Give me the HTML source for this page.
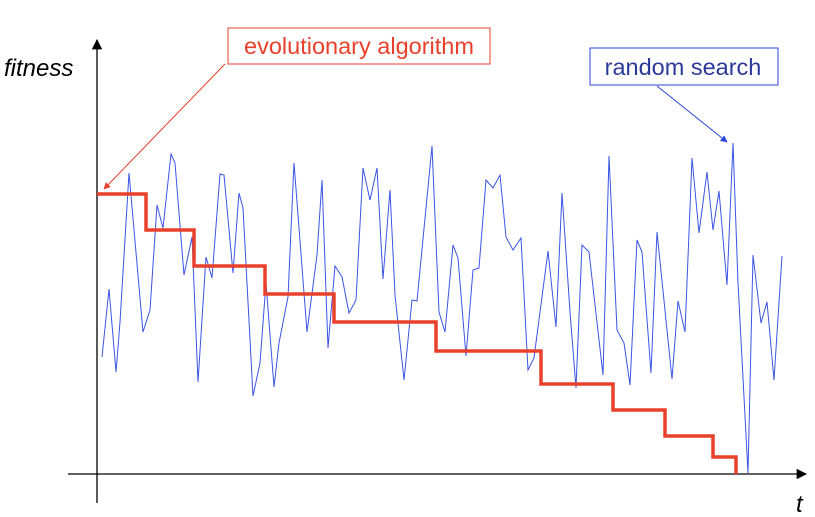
<!DOCTYPE html>
<html><head><meta charset="utf-8"><style>
body{margin:0;background:#fff;}
svg{display:block;font-family:"Liberation Sans",sans-serif;}
</style></head><body>
<svg width="815" height="517" viewBox="0 0 815 517">
<defs>
<marker id="ah" viewBox="0 0 10 10" refX="9" refY="5" markerWidth="8" markerHeight="8" orient="auto"><path d="M0,0L10,5L0,10z" fill="#000"/></marker>
<marker id="ahr" viewBox="0 0 10 10" refX="9" refY="5" markerWidth="7" markerHeight="7" orient="auto"><path d="M0,0L10,5L0,10z" fill="#e8402a"/></marker>
<marker id="ahb" viewBox="0 0 10 10" refX="9" refY="5" markerWidth="7" markerHeight="7" orient="auto"><path d="M0,0L10,5L0,10z" fill="#2b45e0"/></marker>
</defs>
<line x1="97" y1="503" x2="97" y2="40" stroke="#000" stroke-width="1.3" marker-end="url(#ah)"/>
<line x1="68" y1="474" x2="806" y2="474" stroke="#000" stroke-width="1.3" marker-end="url(#ah)"/>
<text x="4" y="76" font-size="24" font-style="italic">fitness</text>
<text x="796" y="512" font-size="24" font-style="italic">t</text>
<g id="series"></g>
<line x1="225" y1="64" x2="104" y2="189" stroke="#e8402a" stroke-width="1" marker-end="url(#ahr)"/>
<line x1="657" y1="86" x2="727" y2="142" stroke="#2b45e0" stroke-width="1" marker-end="url(#ahb)"/>
<rect x="228" y="28" width="262" height="36" fill="#fff" stroke="#e8402a" stroke-width="1"/>
<text x="359" y="54" font-size="23.5" fill="#e8402a" text-anchor="middle">evolutionary algorithm</text>
<rect x="590" y="48" width="188" height="37" fill="#fff" stroke="#2b45e0" stroke-width="1"/>
<text x="683" y="75" font-size="23.5" fill="#2b3a9a" text-anchor="middle">random search</text>
</svg>
<script>
const rsT=[5,12,19,23,32,46,53,60,66,74,78,87,95,101,109,115,123,127,136,142,146,156,163,169,177,182,191,197,210,220,225,231,
238,245,252,259,266,273,280,286,293,298,307,315,320,335,342,348,356,361,369,376,382,389,396,403,409,416,424,431,437,451,459,465,473,
479,485,492,506,512,520,527,533,540,545,554,560,575,581,588,595,602,610,616,622,630,636,641,651,656,664,670,677,685];
const rsV=[117,185,102,152,301,142,164,269,246,320,311,199,237,92,217,196,300,299,201,281,266,78,111,191,87,131,177,311,142,219,294,126,
208,197,161,174,306,274,306,195,284,179,94,174,173,328,162,142,229,216,118,204,206,294,286,299,237,224,236,104,116,223,147,281,162,
86,229,222,99,318,144,131,89,234,222,101,242,95,173,142,316,241,302,244,283,189,331,191,1,219,151,172,94,218];
const eaT=[0,49,49,97,97,168,168,237,237,339,339,444,444,516,516,568,568,616,616,639,639];
const eaV=[280,280,244,244,208,208,180,180,152,152,123,123,90,90,64,64,38,38,17,17,0];
const X=t=>97+t, Y=v=>474-v;
const g=document.getElementById('series');
const NS='http://www.w3.org/2000/svg';
const n=Math.min(rsT.length,rsV.length);
let d='';for(let i=0;i<n;i++)d+=(i?'L':'M')+X(rsT[i])+','+Y(rsV[i]);
const p=document.createElementNS(NS,'path');
p.setAttribute('d',d);p.setAttribute('fill','none');p.setAttribute('stroke','#3a55e6');p.setAttribute('stroke-width','1');


g.appendChild(p);
let d2='';for(let i=0;i<eaT.length;i++)d2+=(i?'L':'M')+X(eaT[i])+','+Y(eaV[i]);
const q=document.createElementNS(NS,'path');
q.setAttribute('d',d2);q.setAttribute('fill','none');q.setAttribute('stroke','#e8402a');q.setAttribute('stroke-width','3.5');


g.appendChild(q);
</script>
</body></html>
